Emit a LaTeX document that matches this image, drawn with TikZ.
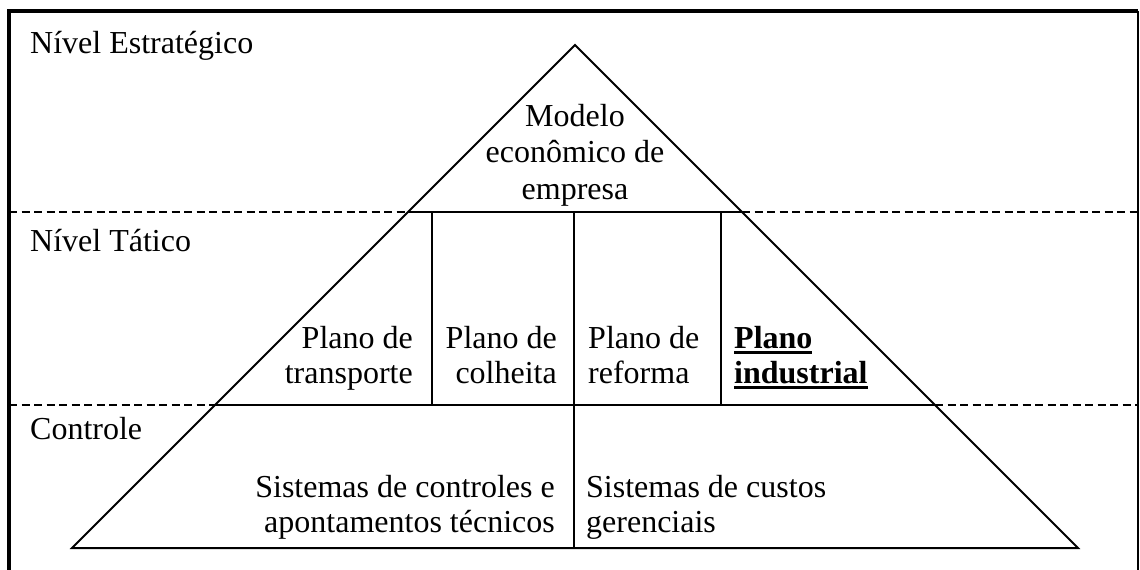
\documentclass[tikz,border=0pt]{standalone}
\usepackage{fontspec}
\setmainfont{Liberation Serif}
\usepackage{tikz}
\usetikzlibrary{calc}
\newcommand{\thickul}[1]{\setbox0\hbox{#1}\rlap{\rule[-5.5pt]{\wd0}{3pt}}\box0}

\begin{document}
\begin{tikzpicture}[x=1pt, y=-1pt,
		txt/.style={inner sep=0pt, font=\fontsize{32}{35}\selectfont},
		edge/.style={line width=2pt},
		lvl/.style={line width=2pt, dash pattern=on 8pt off 4.5pt}]
		%%%%% START %%%%%
		\useasboundingbox (0, 0) rectangle (1140, 570);
		
		% frame
		\draw[line width=4pt] (9, 570) -- (9, 11) -- (1138, 11);
		\draw[line width=1.5pt] (1138, 11) -- (1138, 570);
		
		% pyramid
		\coordinate (apex) at (575, 45);
		\coordinate (bl) at (72, 548);
		\coordinate (br) at (1078, 548);
		\draw[edge] (bl) -- (apex) -- (br) -- cycle;
		
		% levels
		\draw[lvl] (9, 212) -- (408, 212);
		\draw[lvl] (742, 212) -- (1138, 212);
		\draw[lvl] (9, 405) -- (215, 405);
		\draw[lvl] (935, 405) -- (1138, 405);
		\draw[edge] (408, 212) -- (742, 212);
		\draw[edge] (215, 405) -- (935, 405);
		
		\draw[edge] (432, 212) -- (432, 405);
		\draw[edge] (574, 212) -- (574, 548);
		\draw[edge] (721, 212) -- (721, 405);
		
		\node[txt, anchor=base west] (estr) at (30, 53) {Nível Estratégico};
		\node[txt, anchor=base west] (tat) at (30, 251) {Nível Tático};
		\node[txt, anchor=base west] (ctrl) at (30, 439) {Controle};
		
		% base anchor = last line
		\node[txt, anchor=base, align=center, font=\fontsize{32}{36.5}\selectfont] (modelo) at (575, 199) {Modelo\\econômico de\\empresa};
		
		\node[txt, anchor=base east, align=right] (transp) at (413, 383) {Plano de\\transporte};
		\node[txt, anchor=base east, align=right] (colh) at (557, 383) {Plano de\\colheita};
		\node[txt, anchor=base west, align=left] (ref) at (588, 383) {Plano de\\reforma};
		\node[txt, anchor=base west, align=left] (ind) at (734, 383) {\thickul{\textbf{Plano}}\\\thickul{\textbf{industrial}}};
		
		\node[txt, anchor=base east, align=right] (sist) at (555, 532) {Sistemas de controles e\\apontamentos técnicos};
		\node[txt, anchor=base west, align=left] (cust) at (586, 532) {Sistemas de custos\\gerenciais};
		%%%%% END %%%%%
\end{tikzpicture}
\end{document}
